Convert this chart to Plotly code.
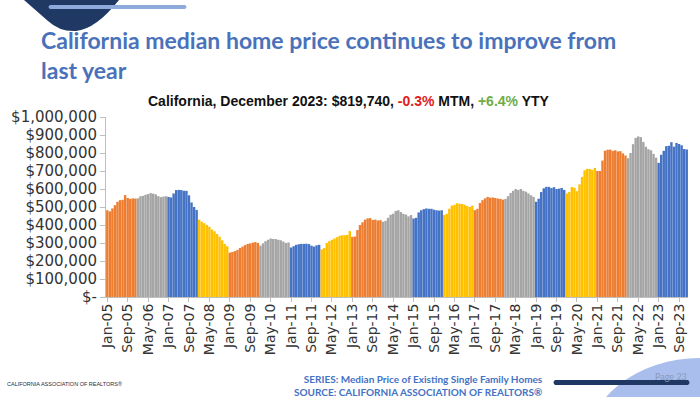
import plotly.graph_objects as go

# ---------------- data ----------------
years = list(range(2005, 2024))
months = ["Jan", "Feb", "Mar", "Apr", "May", "Jun", "Jul", "Aug", "Sep", "Oct", "Nov", "Dec"]

p2005 = [482000, 476000, 492000, 510000, 529000, 538000, 540000, 566000, 550000, 545000, 548000, 547000]
p2006 = [548000, 560000, 562000, 568000, 572000, 577000, 574000, 570000, 560000, 555000, 558000, 560000]
p2007 = [556000, 553000, 575000, 594000, 595000, 594000, 590000, 590000, 565000, 525000, 500000, 484000]
p2008 = [430000, 418000, 410000, 400000, 390000, 375000, 365000, 350000, 335000, 315000, 295000, 282000]
p2009 = [246000, 250000, 255000, 262000, 272000, 280000, 288000, 295000, 298000, 302000, 305000, 300000]
p2010 = [285000, 298000, 310000, 318000, 325000, 322000, 322000, 318000, 315000, 308000, 300000, 303000]
p2011 = [275000, 282000, 290000, 293000, 295000, 295000, 296000, 294000, 285000, 280000, 287000, 290000]
p2012 = [265000, 272000, 300000, 310000, 318000, 325000, 332000, 340000, 343000, 343000, 345000, 366000]
p2013 = [334000, 336000, 372000, 400000, 415000, 430000, 437000, 438000, 428000, 430000, 425000, 427000]
p2014 = [418000, 423000, 440000, 457000, 463000, 478000, 482000, 472000, 462000, 458000, 448000, 455000]
p2015 = [436000, 440000, 470000, 482000, 488000, 492000, 490000, 490000, 485000, 482000, 480000, 482000]
p2016 = [456000, 462000, 490000, 508000, 512000, 521000, 518000, 517000, 513000, 505000, 500000, 508000]
p2017 = [482000, 490000, 522000, 538000, 548000, 556000, 552000, 553000, 550000, 547000, 545000, 541000]
p2018 = [545000, 560000, 578000, 590000, 600000, 594000, 600000, 590000, 585000, 575000, 565000, 556000]
p2019 = [529000, 546000, 583000, 604000, 612000, 612000, 605000, 610000, 600000, 602000, 606000, 595000]
p2020 = [575000, 584000, 611000, 607000, 588000, 626000, 667000, 704000, 712000, 711000, 706000, 717000]
p2021 = [700000, 700000, 758000, 813000, 818000, 819000, 812000, 815000, 809000, 810000, 798000, 786000]
p2022 = [771000, 800000, 849000, 884000, 892000, 888000, 861000, 835000, 821000, 815000, 795000, 774000]
p2023 = [745000, 790000, 812000, 838000, 840000, 860000, 835000, 856000, 850000, 843000, 822000, 819740]

yearly = [p2005, p2006, p2007, p2008, p2009, p2010, p2011, p2012, p2013, p2014,
          p2015, p2016, p2017, p2018, p2019, p2020, p2021, p2022, p2023]

year_colors = ["#ED7D31", "#A5A5A5", "#4472C4", "#FFC000"]

ytick_vals = [0, 100000, 200000, 300000, 400000, 500000, 600000, 700000, 800000, 900000, 1000000]
ytick_text = ["$-", "$100,000", "$200,000", "$300,000", "$400,000", "$500,000",
              "$600,000", "$700,000", "$800,000", "$900,000", "$1,000,000"]

# ---------------- build ----------------
labels, values, colors = [], [], []
for i, (yr, vals) in enumerate(zip(years, yearly)):
    for m, v in zip(months, vals):
        labels.append(f"{m}-{str(yr)[2:]}")
        values.append(v)
        colors.append(year_colors[i % 4])

xidx = list(range(len(values)))
tick_idx = xidx[::8]
tick_txt = [labels[i] for i in tick_idx]

fig = go.Figure(go.Bar(x=xidx, y=values, marker=dict(color=colors, line=dict(width=0)),
                       hovertext=labels))

W, H = 700, 397
L, R, T, B = 106, 688, 117, 297


def px(xp):
    return (xp - L) / (R - L)


def py(yp):
    return (B - yp) / (B - T)


def pth(cmds):
    out = []
    for c in cmds:
        if isinstance(c, str):
            out.append(c)
        else:
            out.append(f"{px(c[0]):.5f},{py(c[1]):.5f}")
    return " ".join(out)


shapes = []
# top-left navy shape (rounded bottom)
navy_path = pth(["M", (23, -3), "L", (24, 0), "L", (48, 21), "Q", (60, 32), (76, 31),
                 "Q", (96, 29), (119, 0), "L", (120, -3), "Z"])
shapes.append(dict(type="path", xref="paper", yref="paper", path=navy_path,
                   fillcolor="#1F3864", line=dict(width=0), layer="above"))
# light blue bar at top
shapes.append(dict(type="path", xref="paper", yref="paper",
                   path=pth(["M", (50, 5), "L", (185, 5), "Q", (188, 7), (185, 9), "L", (50, 9),
                             "Q", (47, 7), (50, 5), "Z"]),
                   fillcolor="#8EA9DB", line=dict(width=0), layer="above"))
# bottom-right light blue ellipse
shapes.append(dict(type="circle", xref="paper", yref="paper", x0=px(585), x1=px(815), y0=py(358), y1=py(542),
                   fillcolor="#A9BEEC", line=dict(width=0), layer="above"))
# navy bar bottom
shapes.append(dict(type="path", xref="paper", yref="paper",
                   path=pth(["M", (555, 380), "L", (688, 380), "Q", (691, 382.5), (688, 385), "L", (555, 385),
                             "Q", (552, 382.5), (555, 380), "Z"]),
                   fillcolor="#1F3864", line=dict(width=0), layer="above"))

annotations = [
    dict(text="California median home price continues to improve from<br>last year",
         x=px(39), y=py(24), xref="paper", yref="paper", xanchor="left", yanchor="top",
         align="left", showarrow=False,
         font=dict(family="Lato", size=23, color="#4A72BA", weight=700)),
    dict(text="California, December 2023: $819,740, <span style='color:#E02020'>-0.3%</span> MTM, "
              "<span style='color:#70AD47'>+6.4%</span> YTY",
         x=px(349), y=py(101), xref="paper", yref="paper", xanchor="center", yanchor="middle",
         showarrow=False, font=dict(family="Liberation Sans", size=14, color="#111111", weight=700)),
    dict(text="SERIES: Median Price of Existing Single Family Homes<br>SOURCE: CALIFORNIA ASSOCIATION OF REALTORS®",
         x=px(545), y=py(385), xref="paper", yref="paper", xanchor="right", yanchor="middle",
         align="right", showarrow=False,
         font=dict(family="Lato", size=10, color="#4472C4", weight=700)),
    dict(text="CALIFORNIA ASSOCIATION OF REALTORS®",
         x=px(5), y=py(384), xref="paper", yref="paper", xanchor="left", yanchor="middle",
         showarrow=False, font=dict(family="Liberation Sans Narrow, Liberation Sans", size=5.5, color="#1F2A44")),
    dict(text="Page 23",
         x=px(689), y=py(376), xref="paper", yref="paper", xanchor="right", yanchor="middle",
         showarrow=False, font=dict(family="Lato", size=9, color="#8C99B8")),
]

fig.update_layout(
    width=W, height=H,
    margin=dict(l=L, r=W - R, t=T, b=H - B, pad=0),
    paper_bgcolor="white", plot_bgcolor="white",
    bargap=0.05, showlegend=False,
    shapes=shapes, annotations=annotations,
    xaxis=dict(range=[-0.5, len(values) - 0.5], tickmode="array", tickvals=tick_idx, ticktext=tick_txt,
               tickangle=-90, ticks="outside", ticklen=4, tickcolor="#BFBFBF", ticklabelstandoff=-4,
               showline=True, linecolor="#BFBFBF", linewidth=1, showgrid=False, zeroline=False,
               tickfont=dict(family="DejaVu Sans", size=14, color="#333333")),
    yaxis=dict(range=[0, 1000000], tickmode="array", tickvals=ytick_vals, ticktext=ytick_text,
               ticks="outside", ticklen=5, tickcolor="#BFBFBF",
               showline=True, linecolor="#BFBFBF", linewidth=1, showgrid=False, zeroline=False,
               tickfont=dict(family="DejaVu Sans", size=15, color="#333333")),
)

fig.write_html("out.html", config={"displayModeBar": False},
               post_script="document.body.style.margin='0';document.body.style.padding='0';")
